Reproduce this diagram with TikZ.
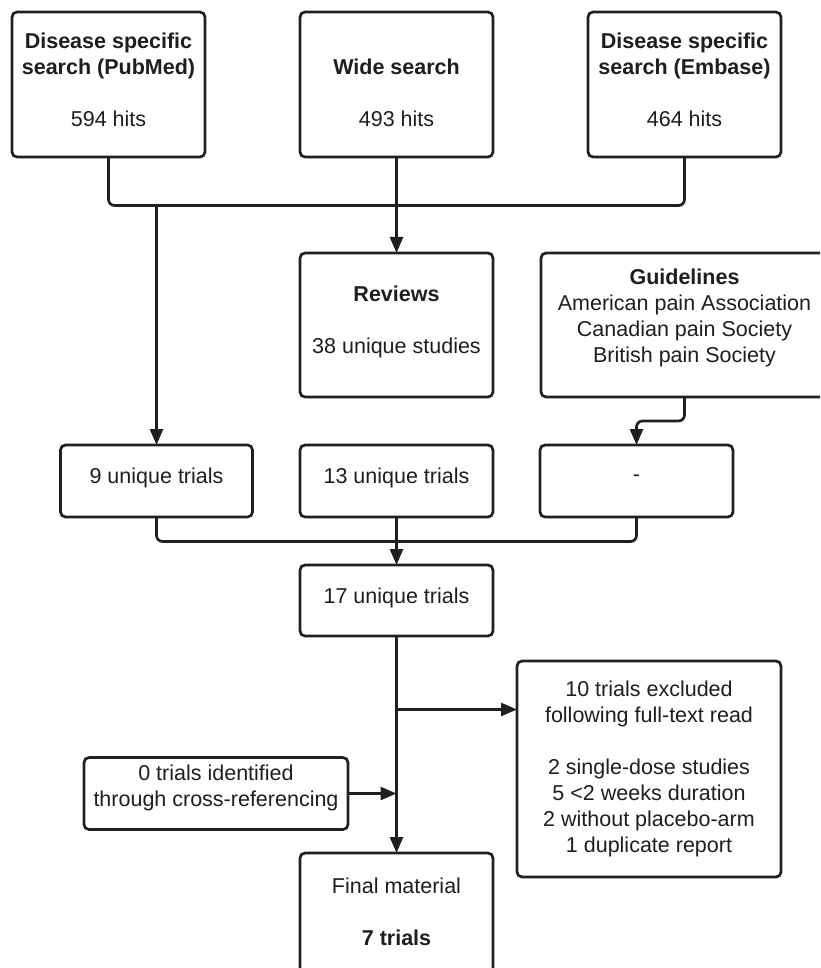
\documentclass[tikz,border=0pt]{standalone}
\usepackage{fontspec}
\setmainfont{Liberation Sans}
\usetikzlibrary{arrows.meta}
\definecolor{lc}{HTML}{231F20}
\definecolor{tc}{HTML}{1E1E1E}
\begin{document}
\begin{tikzpicture}[x=1pt,y=-1pt,
  box/.style={draw=lc, line width=2.7pt, rounded corners=5pt, anchor=north west, inner sep=0pt, outer sep=0pt},
  txt/.style={text=tc, align=center, inner sep=0pt, font=\fontsize{21.5}{26}\selectfont},
  conn/.style={draw=lc, line width=2.7pt, rounded corners=6pt},
  arr/.style={-{Triangle[width=13pt,length=16pt]}}]
\clip (0,0) rectangle (820,968);
\fill[white] (0,0) rectangle (820,968);
% boxes
\node[box, minimum width=193pt, minimum height=145pt] (pub) at (12,12) {};
\node[box, minimum width=193pt, minimum height=145pt] (wide) at (300,12) {};
\node[box, minimum width=193pt, minimum height=145pt] (emb) at (588,12) {};
\node[box, minimum width=193pt, minimum height=144pt] (rev) at (300,253) {};
\node[box, minimum width=300pt, minimum height=144pt] (guide) at (541,253) {};
\node[box, minimum width=192pt, minimum height=72pt] (nine) at (60.5,445) {};
\node[box, minimum width=193pt, minimum height=72pt] (thirteen) at (300,445) {};
\node[box, minimum width=193pt, minimum height=72pt] (dash) at (540,445) {};
\node[box, minimum width=193pt, minimum height=71pt] (seventeen) at (300,565) {};
\node[box, minimum width=264pt, minimum height=216pt] (excl) at (517,661) {};
\node[box, minimum width=264pt, minimum height=72pt] (cross) at (84,757.5) {};
\node[box, minimum width=193pt, minimum height=160pt] (final) at (300,853) {};
% texts
\node[txt] (pubt) at (108.5,80) {\textbf{Disease specific}\\\textbf{search (PubMed)}\\[26pt]594 hits};
\node[txt] (widet) at (396.5,92.5) {\textbf{Wide search}\\[26pt]493 hits};
\node[txt] (embt) at (684.5,80) {\textbf{Disease specific}\\\textbf{search (Embase)}\\[26pt]464 hits};
\node[txt] (revt) at (396.5,322) {\textbf{Reviews}\\[26pt]38 unique studies};
\node[txt] (guidet) at (684.5,318) {\textbf{Guidelines}\\American pain Association\\Canadian pain Society\\British pain Society};
\node[txt] (ninet) at (156.5,478) {9 unique trials};
\node[txt] (thirteent) at (396.5,478) {13 unique trials};
\node[txt] (dasht) at (636.5,478) {-};
\node[txt] (seventeent) at (396.5,598) {17 unique trials};
\node[txt] (exclt) at (649,768.5) {10 trials excluded\\following full-text read\\[26pt]2 single-dose studies\\5 {<}2 weeks duration\\2 without placebo-arm\\1 duplicate report};
\node[txt] (crosst) at (216,787.5) {0 trials identified\\through cross-referencing};
\node[txt] (finalt) at (396.5,912) {Final material\\[26pt]\textbf{7 trials}};
% connectors
\coordinate (b1) at (396.5,205.5);
\coordinate (j1) at (156.5,205.5);
\draw[conn] (pub.south) |- (b1) -| (emb.south);
\draw[conn] (wide.south) -- (b1);
\draw[conn,arr] (j1) -- (j1 |- nine.north);
\draw[conn,arr] (b1) -- (rev.north);
\draw[conn,arr] (emb.south |- guide.south) -- ++(0,24) -| (dash.north);
\coordinate (b2) at (396.5,541.5);
\draw[conn] (nine.south) |- (b2) -| (dash.south);
\draw[conn] (thirteen.south) -- (b2);
\draw[conn,arr] (b2) -- (seventeen.north);
\draw[conn,arr] (seventeen.south) -- (final.north);
\coordinate (b3) at (396.5,709.5);
\draw[conn,arr] (b3) -- (b3 -| excl.west);
\draw[conn,arr] (cross.east) -- (cross.east -| b3);
\end{tikzpicture}
\end{document}
